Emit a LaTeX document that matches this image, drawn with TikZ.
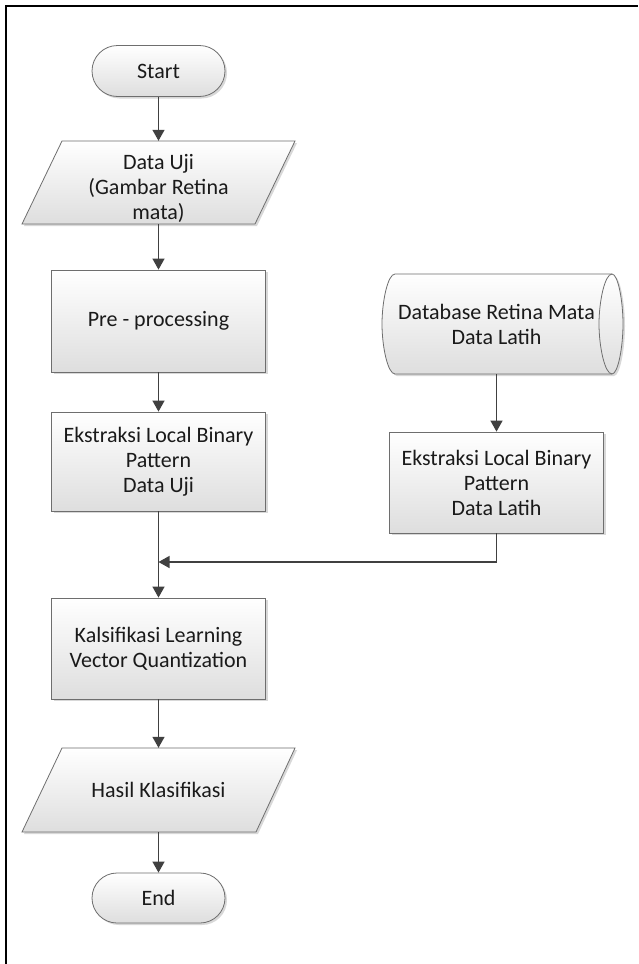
\documentclass[tikz,border=0pt]{standalone}
\usepackage{fontspec}
\setmainfont{Carlito}
\usetikzlibrary{shapes.misc,arrows.meta,shadows}
\definecolor{edgec}{HTML}{6E6E6E}
\definecolor{arrowc}{HTML}{404040}
\definecolor{txtc}{HTML}{1A1A1A}
\begin{document}
\begin{tikzpicture}[x=1pt,y=-1pt,
  shapefill/.style={draw=edgec, line width=0.8pt, top color=white, bottom color=black!13,
    drop shadow={shadow xshift=2pt, shadow yshift=-2pt, fill=black!25, opacity=0.6}},
  lbl/.style={align=center, font=\fontsize{22}{25}\selectfont, text=txtc, inner sep=0pt},
  procbox/.style={shapefill, lbl, rectangle, minimum width=214pt, minimum height=100pt},
  term/.style={shapefill, lbl, rounded rectangle, minimum width=133pt, minimum height=51pt},
  plain/.style={lbl, draw=none},
  arr/.style={draw=arrowc, line width=1.3pt, -{Triangle[width=12pt,length=11pt]}},
  conn/.style={draw=arrowc, line width=1.3pt}
]
\useasboundingbox (0,0) rectangle (638,964);
\fill[white] (0,0) rectangle (638,964);
% frame
\draw[line width=2.4pt, line join=miter] (5.8,964) -- (5.8,6) -- (638,6);

% Start
\node[term] (start) at (158.5,71) {Start};

% Data Uji parallelogram
\path[shapefill] (62,141) -- (295,141) -- (255,224) -- (22,224) -- cycle;
\node[plain, minimum width=200pt, minimum height=83pt] (input) at (158.5,182.5) {};
\node[lbl] (inputtxt) at (158.5,188) {Data Uji\\(Gambar Retina\\mata)};

% Pre-processing
\node[procbox, minimum height=102pt] (pre) at (158.5,321) {Pre - processing};

% Ekstraksi Data Uji
\node[procbox, minimum height=99pt] (uji) at (158.5,461.5) {Ekstraksi Local Binary\\Pattern\\Data Uji};

% Klasifikasi
\node[procbox, minimum height=101pt] (klas) at (158.5,648.5) {Kalsifikasi Learning\\Vector Quantization};

% Hasil parallelogram
\path[shapefill] (62,748) -- (295,748) -- (256,832) -- (22,832) -- cycle;
\node[plain, minimum width=200pt, minimum height=84pt] (hasil) at (158.5,790) {Hasil Klasifikasi};

% End
\node[term, minimum height=50pt] (end) at (158.5,898) {End};

% Database (horizontal cylinder)
\path[shapefill] (395,274) -- (612,274)
  .. controls (618.1,274) and (623,301.4) .. (623,324)
  .. controls (623,346.6) and (618.1,374) .. (612,374)
  -- (395,374)
  .. controls (387.8,374) and (382,346.6) .. (382,324)
  .. controls (382,301.4) and (387.8,274) .. (395,274) -- cycle;
\draw[draw=edgec, line width=0.8pt] (612,274)
  .. controls (604.8,274) and (599,301.4) .. (599,324)
  .. controls (599,346.6) and (604.8,374) .. (612,374);
\node[plain, minimum width=220pt, minimum height=100pt] (db) at (496.5,324) {Database Retina Mata\\Data Latih};

% Ekstraksi Data Latih
\node[procbox, minimum height=101pt] (latih) at (496.5,482.5) {Ekstraksi Local Binary\\Pattern\\Data Latih};

% junction
\coordinate (junc) at (158.5,562);

% connectors
\draw[arr] (start.south) -- (input.north);
\draw[arr] (input.south) -- (pre.north);
\draw[arr] (pre.south) -- (uji.north);
\draw[arr] (uji.south) -- (klas.north);
\draw[arr] (latih.south) |- (junc);
\draw[arr] (klas.south) -- (hasil.north);
\draw[arr] (hasil.south) -- (end.north);
\draw[arr] (db.south) -- (latih.north);
\end{tikzpicture}
\end{document}
